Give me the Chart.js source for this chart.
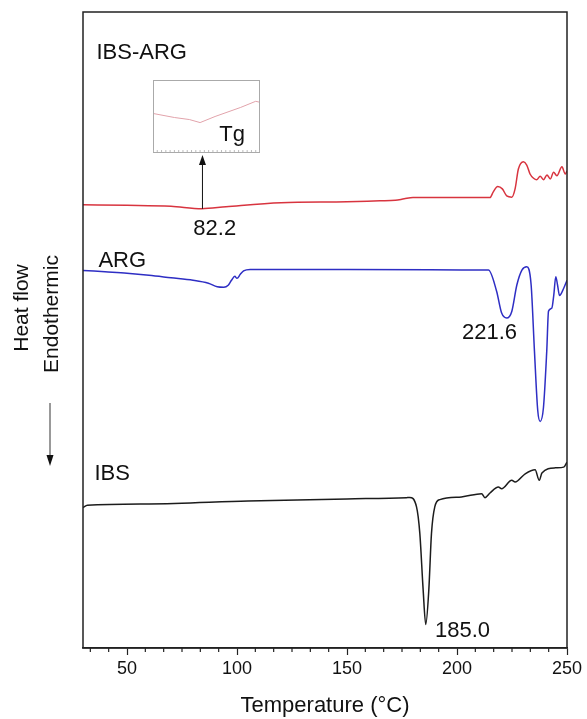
<!DOCTYPE html>
<html>
<head>
<meta charset="utf-8">
<script src="https://cdn.jsdelivr.net/npm/chart.js@4"></script>
<style>
  html, body { margin: 0; padding: 0; background: #fff; }
  #wrap { position: relative; width: 587px; height: 719px; }
  #inset { position: absolute; left: 153px; top: 80px; width: 107px; height: 73px; }
</style>
</head>
<body>
<div id="wrap">
  <canvas id="dsc" width="587" height="719"></canvas>
  <div id="inset"><canvas id="tg" width="107" height="73"></canvas></div>
</div>
<script>
// ── Data (heat flow in arbitrary units) ──
const ibsArgTemp = [30, 50, 70, 84, 95, 120, 150, 165, 172, 176, 180, 200, 215, 216.5, 218.5, 220.6, 222.6, 224.9, 226.4, 227.9, 230.2, 231.7, 233.2, 234.8, 236.3, 237.8, 239.3, 240.9, 242.4, 243.9, 245.4, 247.7, 249.2, 250];
const ibsArgFlow = [44.6, 44.55, 44.45, 44.2, 44.4, 44.8, 44.9, 45.0, 45.05, 45.2, 45.33, 45.33, 45.33, 45.9, 46.43, 46.2, 45.5, 45.37, 46.2, 48.2, 48.93, 48.6, 47.7, 47.27, 47.13, 47.47, 47.13, 47.6, 47.2, 47.87, 47.53, 48.43, 47.7, 48.0];

const argTemp = [30, 40, 50, 60, 70, 80, 87, 91, 94, 96, 97.5, 99, 100, 101.5, 103, 106, 150, 214.3, 218, 220.3, 222.6, 224.9, 227.2, 229.5, 231.7, 233.7, 235.2, 236.7, 237.8, 239.3, 240.8, 241.6, 243.1, 244, 244.9, 245.7, 246.6, 248.5, 250];
const argFlow = [38.0, 37.85, 37.7, 37.5, 37.25, 37.0, 36.7, 36.35, 36.3, 36.5, 37.0, 37.4, 37.2, 37.6, 37.95, 38.1, 38.1, 38.03, 35.9, 33.7, 33.2, 33.87, 36.53, 38.03, 38.37, 36.53, 29.9, 23.9, 22.8, 24.2, 29.9, 33.9, 34.2, 35.53, 37.37, 36.53, 35.47, 36.2, 37.0];

const ibsTemp = [30, 32, 60, 105, 150, 177, 178.5, 181.6, 183.1, 184.6, 185.8, 187.2, 188.4, 189.9, 192.2, 202, 211.2, 212.7, 215, 218.8, 220.3, 224.9, 226.4, 231, 235.5, 237.4, 238.6, 244.7, 248.5, 250];
const ibsFlow = [14.13, 14.37, 14.5, 14.8, 15.0, 15.13, 15.15, 14.2, 11.53, 5.9, 2.37, 5.9, 11.53, 14.2, 14.93, 15.2, 15.53, 15.13, 15.6, 16.2, 16.03, 16.87, 16.7, 17.53, 17.93, 16.87, 17.6, 18.13, 18.2, 18.7];

// inset: close-up of the IBS-ARG glass transition
const tgTemp = [70, 75, 78.5, 81, 84.5, 90.5, 94, 95];
const tgFlow = [39, 35, 33, 30, 36, 45, 51, 50];

// axis ticks
const xMajorTicks = [50, 100, 150, 200, 250];
const xMinorStep  = 50 / 6;

// curve labels: [text, temperature, heat flow, align]
const curveLabels = [
  ['IBS-ARG', 36.1, 59.9, 'left'],
  ['ARG',     37.0, 39.0, 'left'],
  ['IBS',     35.2, 17.5, 'left'],
  ['82.2',    89.9, 42.2, 'center'],
  ['221.6',  214.8, 31.7, 'center'],
  ['185.0',  202.5, 1.7,  'center'],
];

const FONT = '"Liberation Sans", Arial, sans-serif';

function toPoints(xs, ys) {
  return xs.map((x, i) => ({ x, y: ys[i] }));
}

function isMajor(v) {
  return xMajorTicks.some(m => Math.abs(m - v) < 1e-6);
}

// ── Frame, minor ticks, labels, arrows ──
const decorPlugin = {
  id: 'decor',
  afterDraw(chart) {
    const { ctx, chartArea: a, scales: { x, y } } = chart;
    ctx.save();

    // box
    ctx.strokeStyle = '#222';
    ctx.lineWidth = 1.5;
    ctx.strokeRect(a.left, a.top, a.right - a.left, a.bottom - a.top);

    // minor ticks
    ctx.lineWidth = 1.2;
    x.ticks.forEach(t => {
      if (isMajor(t.value)) return;
      const px = x.getPixelForValue(t.value);
      ctx.beginPath();
      ctx.moveTo(px, a.bottom);
      ctx.lineTo(px, a.bottom + 4);
      ctx.stroke();
    });

    // curve labels
    ctx.fillStyle = '#111';
    ctx.font = '22px ' + FONT;
    ctx.textBaseline = 'middle';
    curveLabels.forEach(([txt, tx, ty, align]) => {
      ctx.textAlign = align;
      ctx.fillText(txt, x.getPixelForValue(tx), y.getPixelForValue(ty));
    });

    // Tg arrow from the red dip up to the inset
    const ax = x.getPixelForValue(84.3);
    const ay0 = y.getPixelForValue(44.2);
    const ay1 = y.getPixelForValue(49.6);
    ctx.strokeStyle = '#111';
    ctx.lineWidth = 1;
    ctx.beginPath();
    ctx.moveTo(ax, ay0);
    ctx.lineTo(ax, ay1 + 8);
    ctx.stroke();
    ctx.beginPath();
    ctx.moveTo(ax, ay1);
    ctx.lineTo(ax - 3.5, ay1 + 10);
    ctx.lineTo(ax + 3.5, ay1 + 10);
    ctx.closePath();
    ctx.fill();

    // y axis caption
    ctx.textAlign = 'center';
    ctx.font = '21px ' + FONT;
    ctx.save();
    ctx.translate(22, 308);
    ctx.rotate(-Math.PI / 2);
    ctx.fillText('Heat flow', 0, 0);
    ctx.restore();
    ctx.save();
    ctx.translate(52, 314);
    ctx.rotate(-Math.PI / 2);
    ctx.fillText('Endothermic', 0, 0);
    ctx.restore();

    // endothermic direction arrow
    ctx.strokeStyle = '#777';
    ctx.lineWidth = 1.5;
    ctx.beginPath();
    ctx.moveTo(50, 403);
    ctx.lineTo(50, 458);
    ctx.stroke();
    ctx.fillStyle = '#111';
    ctx.beginPath();
    ctx.moveTo(50, 466);
    ctx.lineTo(46.5, 455);
    ctx.lineTo(53.5, 455);
    ctx.closePath();
    ctx.fill();

    ctx.restore();
  }
};

function lineSet(label, xs, ys, color) {
  return {
    label,
    data: toPoints(xs, ys),
    borderColor: color,
    borderWidth: 1.5,
    pointRadius: 0,
    cubicInterpolationMode: 'monotone',
    fill: false,
  };
}

new Chart(document.getElementById('dsc'), {
  type: 'line',
  data: {
    datasets: [
      lineSet('IBS-ARG', ibsArgTemp, ibsArgFlow, '#d8343f'),
      lineSet('ARG',     argTemp,    argFlow,    '#2e2ec4'),
      lineSet('IBS',     ibsTemp,    ibsFlow,    '#1c1c1c'),
    ],
  },
  options: {
    responsive: false,
    devicePixelRatio: 1,
    animation: false,
    layout: { padding: { left: 83, right: 20, top: 12, bottom: 0 } },
    plugins: { legend: { display: false }, tooltip: { enabled: false } },
    scales: {
      x: {
        type: 'linear',
        min: 30,
        max: 250,
        afterBuildTicks: scale => {
          const ticks = [];
          for (let k = 4; k <= 30; k++) ticks.push({ value: k * xMinorStep });
          scale.ticks = ticks;
        },
        border: { display: true, color: '#222', width: 1.5 },
        grid: {
          drawOnChartArea: false,
          tickLength: 7,
          tickWidth: 1.2,
          tickColor: ctx => isMajor(ctx.tick.value) ? '#222' : 'rgba(0,0,0,0)',
        },
        ticks: {
          autoSkip: false,
          maxRotation: 0,
          padding: 3,
          color: '#111',
          font: { family: FONT, size: 18 },
          callback: v => isMajor(v) ? String(Math.round(v)) : '',
        },
        title: {
          display: true,
          text: 'Temperature (°C)',
          color: '#111',
          font: { family: FONT, size: 22 },
          padding: { top: 10, bottom: 0 },
        },
      },
      y: { display: false, min: 0, max: 64 },
    },
  },
  plugins: [decorPlugin],
});

// ── Inset (Tg close-up) ──
const insetFrame = {
  id: 'insetFrame',
  afterDraw(chart) {
    const { ctx, chartArea: a, scales: { x } } = chart;
    ctx.save();
    ctx.strokeStyle = '#aaa';
    ctx.lineWidth = 1;
    ctx.strokeRect(a.left + 0.5, a.top + 0.5, a.right - a.left - 1, a.bottom - a.top - 1);
    ctx.strokeStyle = '#bbb';
    for (let v = 70; v <= 95; v += 1) {
      const px = x.getPixelForValue(v);
      ctx.beginPath();
      ctx.moveTo(px, a.bottom - 1);
      ctx.lineTo(px, a.bottom - 3);
      ctx.stroke();
    }
    ctx.fillStyle = '#111';
    ctx.font = '22px ' + FONT;
    ctx.textAlign = 'center';
    ctx.textBaseline = 'middle';
    ctx.fillText('Tg', x.getPixelForValue(88.5), 55);
    ctx.restore();
  }
};

new Chart(document.getElementById('tg'), {
  type: 'line',
  data: {
    datasets: [{
      data: toPoints(tgTemp, tgFlow),
      borderColor: '#e2a3ab',
      borderWidth: 1,
      pointRadius: 0,
      tension: 0,
      fill: false,
    }],
  },
  options: {
    responsive: false,
    devicePixelRatio: 1,
    animation: false,
    layout: { padding: 0 },
    plugins: { legend: { display: false }, tooltip: { enabled: false } },
    scales: {
      x: { type: 'linear', display: false, min: 70, max: 95 },
      y: { display: false, min: 0, max: 72 },
    },
  },
  plugins: [insetFrame],
});
</script>
</body>
</html>
